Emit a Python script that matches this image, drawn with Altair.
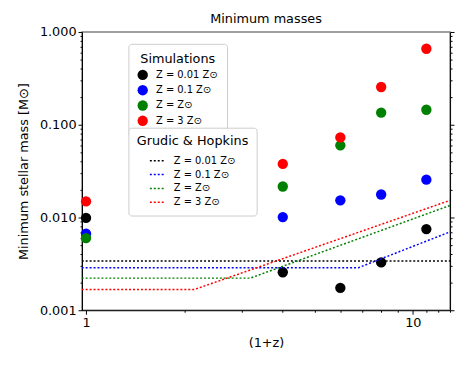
import altair as alt
import pandas as pd

# ---------------- data ----------------
sim_labels = ["Z = 0.01 Z⊙", "Z = 0.1 Z⊙", "Z = Z⊙", "Z = 3 Z⊙"]
gh_labels = ["Z = 0.01 Z⊙ ", "Z = 0.1 Z⊙ ", "Z = Z⊙ ", "Z = 3 Z⊙ "]
colors = ["black", "blue", "green", "red"]

x_sim = [1, 4, 6, 8, 11]
sim_001 = [0.0099, 0.00257, 0.00174, 0.00328, 0.0075]
sim_01 = [0.0067, 0.0101, 0.0153, 0.0177, 0.0256]
sim_1 = [0.0060, 0.0216, 0.060, 0.135, 0.145]
sim_3 = [0.0149, 0.0378, 0.073, 0.255, 0.66]

gh_001_x = [0.97, 13.0]
gh_001_y = [0.00339, 0.00339]
gh_01_x = [0.97, 6.82, 13.0]
gh_01_y = [0.00288, 0.00288, 0.0070]
gh_1_x = [0.97, 3.18, 13.0]
gh_1_y = [0.00222, 0.00222, 0.0135]
gh_3_x = [0.97, 2.14, 13.0]
gh_3_y = [0.00167, 0.00167, 0.0153]

x_ticks = [1, 2, 3, 4, 5, 6, 7, 8, 9, 10, 11, 12, 13]
y_ticks = [m * 10 ** e for e in (-3, -2, -1) for m in range(1, 10)] + [1.0]

# ---------------- tables ----------------
rows = []
for lab, ys in zip(sim_labels, [sim_001, sim_01, sim_1, sim_3]):
    for xv, yv in zip(x_sim, ys):
        rows.append({"x": xv, "y": yv, "series": lab})
pts = pd.DataFrame(rows)

rows = []
for lab, xs, ys in zip(gh_labels, [gh_001_x, gh_01_x, gh_1_x, gh_3_x],
                       [gh_001_y, gh_01_y, gh_1_y, gh_3_y]):
    for i, (xv, yv) in enumerate(zip(xs, ys)):
        rows.append({"x": xv, "y": yv, "model": lab, "i": i})
lines = pd.DataFrame(rows)

FONT = "DejaVu Sans"
major = "abs(log(datum.value)/LN10 - round(log(datum.value)/LN10)) < 0.001"

xscale = alt.Scale(type="log", domain=[0.972, 13.0], nice=False)
yscale = alt.Scale(type="log", domain=[0.001, 1.0], nice=False)

x_axis = alt.Axis(
    values=x_ticks, title="(1+z)", grid=False,
    labelExpr=f"({major}) ? format(datum.value, 'd') : ''",
    tickSize={"condition": {"test": major, "value": 4}, "value": 2},
    labelFontSize=13, titleFontSize=13, titleFontWeight="normal",
    labelFont=FONT, titleFont=FONT, labelPadding=2, titlePadding=8,
    domainColor="black", tickColor="black", labelColor="black",
    titleColor="black", labelOverlap=False, labelFlush=False,
)
y_axis_left = alt.Axis(
    values=y_ticks, title="Minimum stellar mass [M⊙]", grid=False,
    labelExpr=f"({major}) ? format(datum.value, '.3f') : ''",
    tickSize={"condition": {"test": major, "value": 4}, "value": 2},
    labelFontSize=13, titleFontSize=13, titleFontWeight="normal",
    labelFont=FONT, titleFont=FONT, labelPadding=2, titlePadding=9,
    domainColor="black", tickColor="black", labelColor="black",
    titleColor="black", labelOverlap=False, labelFlush=False,
)
y_axis_right = alt.Axis(
    values=y_ticks, title=None, orient="right", grid=False, labels=False,
    tickSize={"condition": {"test": major, "value": 4}, "value": 2},
    domainColor="black", tickColor="black",
)

points = alt.Chart(pts).mark_circle(size=110, opacity=1).encode(
    x=alt.X("x:Q", scale=xscale, axis=x_axis),
    y=alt.Y("y:Q", scale=yscale, axis=y_axis_left),
    color=alt.Color(
        "series:N",
        scale=alt.Scale(domain=sim_labels, range=colors),
        legend=alt.Legend(
            title="Simulations", orient="none", legendX=47, legendY=12,
            titleAnchor="middle", titleFontSize=13, titleFontWeight="normal",
            titleFont=FONT, labelFont=FONT, labelFontSize=10, labelColor="black",
            titleColor="black", titlePadding=4,
            symbolType="circle", symbolSize=110, symbolOpacity=1,
            symbolStrokeWidth=0, rowPadding=4.5, padding=9, labelOffset=8,
            strokeColor="#cccccc", fillColor="white", cornerRadius=3,
        ),
    ),
)

gh = alt.Chart(lines).mark_line(strokeDash=[2, 2], strokeWidth=1.5, clip=True).encode(
    x=alt.X("x:Q", scale=xscale, axis=x_axis),
    y=alt.Y("y:Q", scale=yscale, axis=y_axis_right),
    order="i:Q",
    color=alt.Color(
        "model:N",
        scale=alt.Scale(domain=gh_labels, range=colors),
        legend=alt.Legend(
            title="Grudic & Hopkins", orient="none", legendX=47, legendY=97,
            titleAnchor="middle", titleFontSize=13, titleFontWeight="normal",
            titleFont=FONT, labelFont=FONT, labelFontSize=10, labelColor="black",
            titleColor="black", titlePadding=4,
            symbolType="stroke", symbolSize=240, symbolDash=[2, 2],
            symbolStrokeWidth=1.5, rowPadding=0, padding=8, labelOffset=8,
            strokeColor="#cccccc", fillColor="white", cornerRadius=3,
        ),
    ),
)

chart = alt.layer(points, gh).resolve_scale(color="independent").resolve_axis(
    y="independent"
).properties(
    width=373, height=282,
    title=alt.TitleParams("Minimum masses", fontSize=13, fontWeight="normal",
                          font=FONT, color="black", anchor="middle", offset=0),
    autosize=alt.AutoSizeParams(type="none"),
    padding={"left": 75, "top": 22, "right": 5, "bottom": 40},
).configure_view(stroke="#808080", strokeWidth=1.5)

chart.save("out.html", embed_options={"renderer": "svg", "actions": False})
